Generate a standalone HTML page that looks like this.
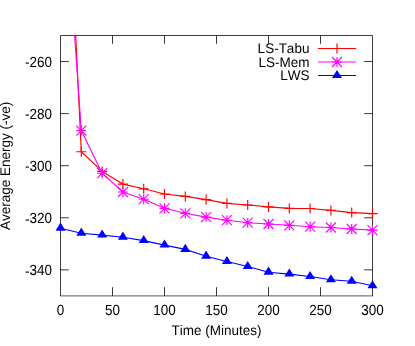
<!DOCTYPE html>
<html><head><meta charset="utf-8"><title>plot</title>
<style>html,body{margin:0;padding:0;background:#fff;}body{width:415px;height:346px;overflow:hidden;}svg{display:block;will-change:transform;}text{font-family:"Liberation Sans",sans-serif;font-size:13.5px;fill:#000;text-rendering:geometricPrecision;font-kerning:none;}</style></head><body>
<svg width="415" height="346" viewBox="0 0 415 346">
<rect width="415" height="346" fill="#fff"/>
<path d="M60.5 295.9V35.5H372.5V295.9" fill="none" stroke="#000" stroke-opacity=".76" stroke-width="1"/>
<path d="M60.0 295.9H373.0" fill="none" stroke="#000" stroke-opacity=".66" stroke-width="1"/>
<path d="M112.50 295.9v-8.700000000000001M112.50 35.5v8.3M164.50 295.9v-8.700000000000001M164.50 35.5v8.3M216.50 295.9v-8.700000000000001M216.50 35.5v8.3M268.50 295.9v-8.700000000000001M268.50 35.5v8.3M320.50 295.9v-8.700000000000001M320.50 35.5v8.3M60.5 61.54h8.3M372.5 61.54h-8.3M60.5 113.62h8.3M372.5 113.62h-8.3M60.5 165.70h8.3M372.5 165.70h-8.3M60.5 217.78h8.3M372.5 217.78h-8.3M60.5 269.86h8.3M372.5 269.86h-8.3" fill="none" stroke="#000" stroke-opacity=".78" stroke-width="1"/>
<text transform="translate(51.95 66.59) scale(1 1.09)" text-anchor="end"><tspan dy=".65">-</tspan><tspan dy="-.65">260</tspan></text>
<text transform="translate(51.95 118.67) scale(1 1.09)" text-anchor="end"><tspan dy=".65">-</tspan><tspan dy="-.65">280</tspan></text>
<text transform="translate(51.95 170.75) scale(1 1.09)" text-anchor="end"><tspan dy=".65">-</tspan><tspan dy="-.65">300</tspan></text>
<text transform="translate(51.95 222.83) scale(1 1.09)" text-anchor="end"><tspan dy=".65">-</tspan><tspan dy="-.65">320</tspan></text>
<text transform="translate(51.95 274.91) scale(1 1.09)" text-anchor="end"><tspan dy=".65">-</tspan><tspan dy="-.65">340</tspan></text>
<text transform="translate(60.50 314.7) scale(1 1.09)" text-anchor="middle">0</text>
<text transform="translate(112.50 314.7) scale(1 1.09)" text-anchor="middle">50</text>
<text transform="translate(164.50 314.7) scale(1 1.09)" text-anchor="middle">100</text>
<text transform="translate(216.50 314.7) scale(1 1.09)" text-anchor="middle">150</text>
<text transform="translate(268.50 314.7) scale(1 1.09)" text-anchor="middle">200</text>
<text transform="translate(320.50 314.7) scale(1 1.09)" text-anchor="middle">250</text>
<text transform="translate(372.50 314.7) scale(1 1.09)" text-anchor="middle">300</text>
<text transform="translate(216.5 334.8) scale(1 1.03)" text-anchor="middle">Time (Minutes)</text>
<text transform="translate(9.9 165.8) rotate(-90) scale(1 1.03)" text-anchor="middle">Average Energy (-ve)</text>
<text transform="translate(309.4 53.20) scale(1 1.03)" font-size="13.3" text-anchor="end">LS-Tabu</text>
<text transform="translate(309.4 66.70) scale(1 1.03)" font-size="13.3" text-anchor="end">LS-Mem</text>
<text transform="translate(309.4 80.20) scale(1 1.03)" font-size="13.3" text-anchor="end">LWS</text>
<g fill="none" stroke="#f00" stroke-width="1.15">
<path d="M75.70 35.50L81.30 151.70L102.10 171.40L122.90 184.10L143.70 188.80L164.50 194.00L185.30 196.40L206.10 199.60L226.90 203.40L247.70 205.00L268.50 206.90L289.30 208.40L310.10 208.50L330.90 210.40L351.70 212.60L372.50 213.60M318 48.5H356"/>
<path d="M81.30 146.70v10M76.30 151.70h10M102.10 166.40v10M97.10 171.40h10M122.90 179.10v10M117.90 184.10h10M143.70 183.80v10M138.70 188.80h10M164.50 189.00v10M159.50 194.00h10M185.30 191.40v10M180.30 196.40h10M206.10 194.60v10M201.10 199.60h10M226.90 198.40v10M221.90 203.40h10M247.70 200.00v10M242.70 205.00h10M268.50 201.90v10M263.50 206.90h10M289.30 203.40v10M284.30 208.40h10M310.10 203.50v10M305.10 208.50h10M330.90 205.40v10M325.90 210.40h10M351.70 207.60v10M346.70 212.60h10M372.50 208.60v10M367.50 213.60h10M337.00 43.50v10M332.00 48.50h10"/>
</g>
<g fill="none" stroke="#f0f" stroke-width="1.15">
<path d="M74.60 35.50L81.30 130.60L102.10 173.20L122.90 192.00L143.70 199.20L164.50 208.30L185.30 213.30L206.10 217.10L226.90 220.20L247.70 222.70L268.50 224.00L289.30 225.30L310.10 226.70L330.90 227.50L351.70 229.00L372.50 230.10M318 62H356"/>
<path d="M81.30 125.60v10M76.30 130.60h10M76.30 125.60l10 10M76.30 135.60l10 -10M102.10 168.20v10M97.10 173.20h10M97.10 168.20l10 10M97.10 178.20l10 -10M122.90 187.00v10M117.90 192.00h10M117.90 187.00l10 10M117.90 197.00l10 -10M143.70 194.20v10M138.70 199.20h10M138.70 194.20l10 10M138.70 204.20l10 -10M164.50 203.30v10M159.50 208.30h10M159.50 203.30l10 10M159.50 213.30l10 -10M185.30 208.30v10M180.30 213.30h10M180.30 208.30l10 10M180.30 218.30l10 -10M206.10 212.10v10M201.10 217.10h10M201.10 212.10l10 10M201.10 222.10l10 -10M226.90 215.20v10M221.90 220.20h10M221.90 215.20l10 10M221.90 225.20l10 -10M247.70 217.70v10M242.70 222.70h10M242.70 217.70l10 10M242.70 227.70l10 -10M268.50 219.00v10M263.50 224.00h10M263.50 219.00l10 10M263.50 229.00l10 -10M289.30 220.30v10M284.30 225.30h10M284.30 220.30l10 10M284.30 230.30l10 -10M310.10 221.70v10M305.10 226.70h10M305.10 221.70l10 10M305.10 231.70l10 -10M330.90 222.50v10M325.90 227.50h10M325.90 222.50l10 10M325.90 232.50l10 -10M351.70 224.00v10M346.70 229.00h10M346.70 224.00l10 10M346.70 234.00l10 -10M372.50 225.10v10M367.50 230.10h10M367.50 225.10l10 10M367.50 235.10l10 -10M337.00 57.00v10M332.00 62.00h10M332.00 57.00l10 10M332.00 67.00l10 -10"/>
</g>
<g fill="none" stroke="#00f" stroke-width="1.15">
<path d="M60.50 228.20L81.30 233.20L102.10 235.10L122.90 237.20L143.70 240.60L164.50 245.10L185.30 249.40L206.10 256.20L226.90 261.50L247.70 266.50L268.50 272.20L289.30 274.10L310.10 276.50L330.90 279.80L351.70 281.30L372.50 285.80M318 75.5H356"/>
<path fill="#00f" stroke="none" d="M60.50 222.60l-5 8.10h10zM81.30 227.60l-5 8.10h10zM102.10 229.50l-5 8.10h10zM122.90 231.60l-5 8.10h10zM143.70 235.00l-5 8.10h10zM164.50 239.50l-5 8.10h10zM185.30 243.80l-5 8.10h10zM206.10 250.60l-5 8.10h10zM226.90 255.90l-5 8.10h10zM247.70 260.90l-5 8.10h10zM268.50 266.60l-5 8.10h10zM289.30 268.50l-5 8.10h10zM310.10 270.90l-5 8.10h10zM330.90 274.20l-5 8.10h10zM351.70 275.70l-5 8.10h10zM372.50 280.20l-5 8.10h10zM337.00 69.90l-5 8.10h10z"/>
</g>
</svg></body></html>
